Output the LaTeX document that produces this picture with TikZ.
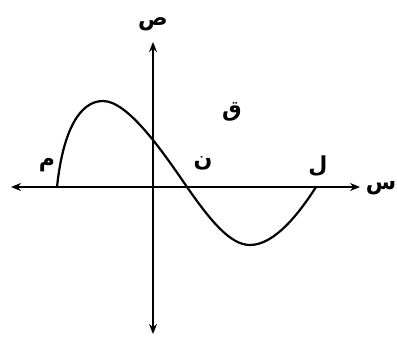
\documentclass[tikz,border=0pt]{standalone}
\usepackage{fontspec}
\newfontfamily\arabicfont[Script=Arabic]{DejaVu Sans}
\TeXXeTstate=1
\usetikzlibrary{arrows.meta}
\begin{document}
\begin{tikzpicture}[x=1pt,y=-1pt,
  axis/.style={line width=2.2pt,{Stealth[length=10pt,width=8pt]}-{Stealth[length=10pt,width=8pt]}},
  curve/.style={line width=2.2pt},
  lbl/.style={font=\arabicfont\bfseries\fontsize{22}{22}\selectfont, inner sep=0pt}]
\useasboundingbox (0,0) rectangle (397,338);
\coordinate (xl) at (11,187);
\coordinate (xr) at (360,187);
\coordinate (yt) at (153,42);
\coordinate (yb) at (153,334);
\draw[axis] (xl) -- (xr);
\draw[axis] (yb) -- (yt);
\coordinate (M) at (57,187);
\coordinate (P) at (103,101);
\coordinate (N) at (187,187);
\coordinate (Q) at (250,245);
\coordinate (L) at (316,187);
\draw[curve] (M) .. controls (63,130) and (80,101) .. (P)
  .. controls (128,101) and (163,152) .. (N)
  .. controls (210,220) and (230,245) .. (Q)
  .. controls (275,245) and (300,212) .. (L);
\node[lbl] (ys) at (153,24) {\beginR ص\endR};
\node[lbl] (xs) at (381,188) {\beginR س\endR};
\node[lbl] (mlab) at (47,165) {\beginR م\endR};
\node[lbl] (nlab) at (203,163) {\beginR ن\endR};
\node[lbl] (llab) at (318,166) {\beginR ل\endR};
\node[lbl] (qlab) at (232,112) {\beginR ق\endR};
\end{tikzpicture}
\end{document}
